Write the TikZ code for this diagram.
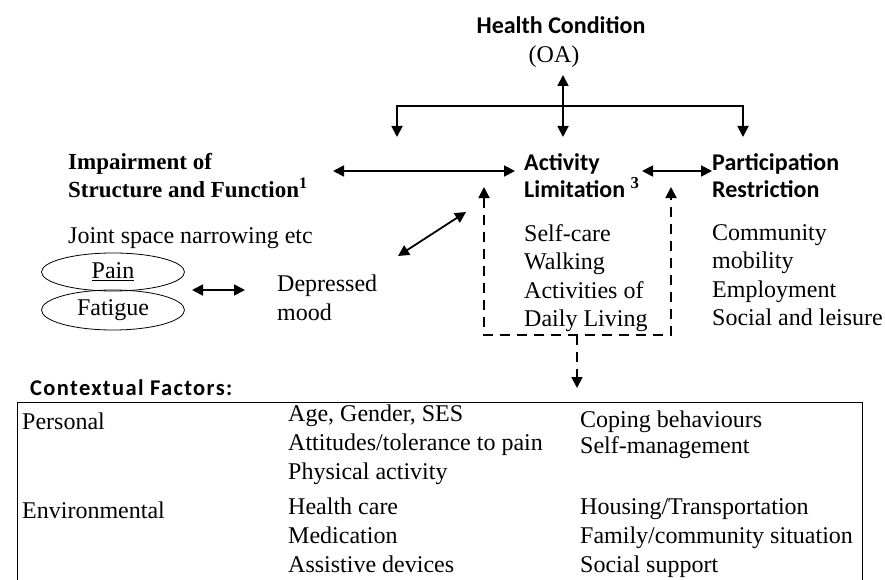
\documentclass[tikz,border=0pt]{standalone}
\usepackage{fontspec}
\setmainfont{Liberation Serif}
\newfontfamily\hfont{Carlito}
\newfontfamily\cfont[LetterSpace=6]{Carlito}
\usetikzlibrary{arrows.meta,shapes.geometric}
\begin{document}
\begin{tikzpicture}[x=1pt,y=-1pt,
 txt/.style={anchor=north west,inner sep=0pt,font=\fontsize{24}{28.5}\selectfont,align=left,execute at begin node=\strut},
 btxt/.style={anchor=north west,inner sep=0pt,font=\fontsize{24}{29}\selectfont,align=left,execute at begin node=\strut},
 head/.style={anchor=west,inner sep=0pt,font=\hfont\bfseries\fontsize{24}{27}\selectfont,align=left},
 shead/.style={anchor=west,inner sep=0pt,font=\bfseries\fontsize{23}{28}\selectfont,align=left},
 tip/.tip={Triangle[length=11pt,width=11pt]},
 arr/.style={line width=1.8pt,-tip},
 darr/.style={line width=1.8pt,tip-tip},
 dsh/.style={line width=1.8pt,dash pattern=on 10pt off 7pt},
 ell/.style={ellipse,draw,line width=0.8pt,minimum width=143pt,minimum height=38pt,inner sep=0pt,font=\fontsize{24}{28}\selectfont}]
\useasboundingbox (0,0) rectangle (885,580);

% top
\node[head,anchor=center] (hc) at (561,25) {Health Condition};
\node[anchor=center,inner sep=0pt,font=\fontsize{24}{28}\selectfont] (oa) at (554,57) {(OA)};
\coordinate (t0) at (563,75);
\coordinate (t1) at (563,137);
\coordinate (dl) at (397,137);
\coordinate (dr) at (743,137);
\coordinate (hl) at (397,106);
\coordinate (hr) at (743,106);
\draw[darr] (t0) -- (t1);
\draw[darr] (dl) -- (hl) -- (hr) -- (dr);

% headings
\node[shead] (imp) at (68,176) {Impairment of\\Structure and Function\textsuperscript{1}};
\node[head] (act) at (524,176) {Activity\\Limitation {\rmfamily\textsuperscript{3}}};
\node[head] (par) at (712,176) {Participation\\Restriction};
\coordinate (ia1) at (333,171);
\coordinate (ia2) at (515,171);
\draw[darr] (ia1) -- (ia2);
\coordinate (ap1) at (642,171);
\coordinate (ap2) at (712,171);
\draw[darr] (ap1) -- (ap2);

% left column
\node[txt] (jsn) at (68,223) {Joint space narrowing etc};
\node[ell] (pain) at (113,272) {\underline{Pain}};
\node[ell,minimum height=40pt] (fat) at (113,310) {Fatigue};
\node[txt] (dep) at (277,275) {Depressed\\mood};
\coordinate (pd1) at (192,290);
\coordinate (pd2) at (245,290);
\draw[darr] (pd1) -- (pd2);
\coordinate (dg1) at (398,256);
\coordinate (dg2) at (466,212);
\draw[darr] (dg1) -- (dg2);

% activity / participation lists
\node[txt] (actl) at (524,224) {Self-care\\Walking\\Activities of\\Daily Living};
\node[txt] (parl) at (712,224) {Community\\mobility\\Employment\\Social and leisure};

% dashed loop
\coordinate (dlt) at (484,187);
\coordinate (dlb) at (484,335);
\coordinate (drb) at (671,335);
\coordinate (drt) at (671,187);
\coordinate (dmb) at (577,335);
\coordinate (dmt) at (577,388);
\draw[dsh,tip-tip] (dlt) -- (dlb) -- (drb) -- (drt);
\draw[dsh,-tip] (dmb) -- (dmt);

% contextual factors
\node[anchor=west,inner sep=0pt,font=\cfont\bfseries\fontsize{22.5}{24}\selectfont] (cf) at (30,388) {Contextual Factors:};
\coordinate (b1) at (17,590);
\coordinate (b2) at (17,402);
\coordinate (b3) at (862,402);
\coordinate (b4) at (862,590);
\draw[line width=1pt] (b1) -- (b2) -- (b3) -- (b4);

\node[btxt] (pers) at (22,409) {Personal};
\node[btxt] (env) at (22,498) {Environmental};
\node[btxt] (p2) at (288,404.5) {Age, Gender, SES\\Attitudes/tolerance to pain\\Physical activity};
\node[btxt,font=\fontsize{24}{26}\selectfont] (p3) at (580,410.5) {Coping behaviours\\Self-management};
\node[btxt] (e2) at (288,498) {Health care\\Medication\\Assistive devices};
\node[btxt] (e3) at (580,498) {Housing/Transportation\\Family/community situation\\Social support};
\end{tikzpicture}
\end{document}
